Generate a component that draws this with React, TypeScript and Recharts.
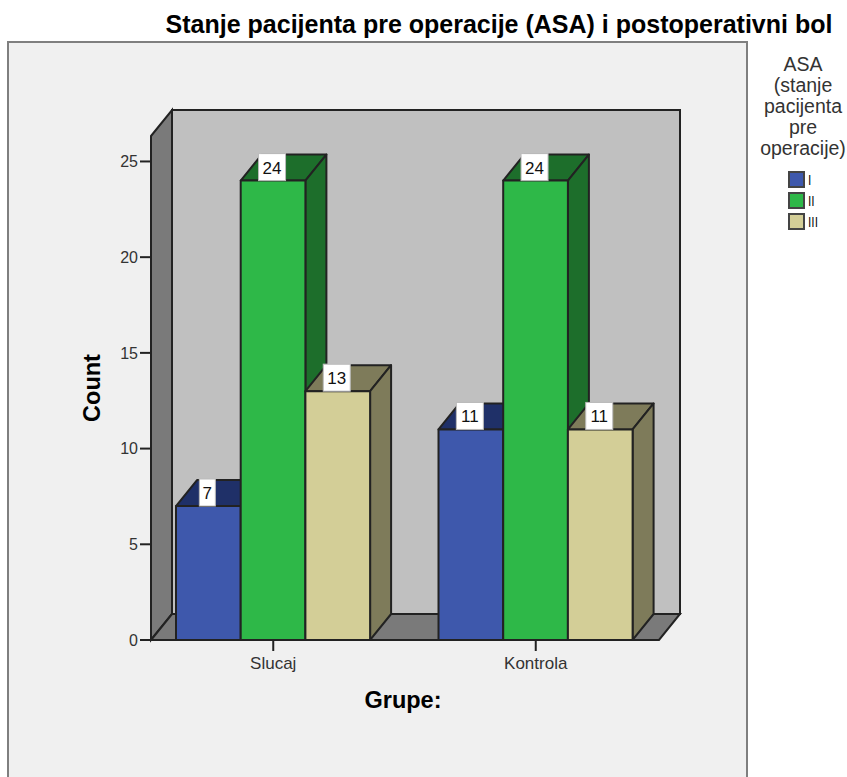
import React from 'react';
import { BarChart, Bar, XAxis, YAxis, Legend, LabelList, usePlotArea } from 'recharts';

const categories = ['Slucaj', 'Kontrola'];
const asaI = [7, 11];
const asaII = [24, 24];
const asaIII = [13, 11];
const yTicks = [0, 5, 10, 15, 20, 25];
const legendTitle = ['ASA', '(stanje', 'pacijenta', 'pre', 'operacije)'];

const data = categories.map((name, i) => ({ name, I: asaI[i], II: asaII[i], III: asaIII[i] }));

const FONT = '"Liberation Sans", Arial, sans-serif';
const DX = 21;
const DY = 26;
const EDGE = '#222';

const Walls = () => {
  const plot = usePlotArea();
  if (!plot) return null;
  const { x, y, width, height } = plot;
  const right = x + width;
  const bottom = y + height;
  return (
    <g>
      <rect x={8} y={42} width={739} height={780} fill="#f0f0f0" stroke="#7f7f7f" strokeWidth={2} />
      <text x={499} y={33} textAnchor="middle" fontFamily={FONT} fontWeight="bold" fontSize={25} fill="#000">
        Stanje pacijenta pre operacije (ASA) i postoperativni bol
      </text>
      <rect x={x + DX} y={y - DY} width={width} height={height} fill="#c0c0c0" stroke={EDGE} strokeWidth={2} />
      <polygon
        points={`${x},${y} ${x + DX},${y - DY} ${x + DX},${bottom - DY} ${x},${bottom}`}
        fill="#7a7a7a"
        stroke={EDGE}
        strokeWidth={2}
      />
      <polygon
        points={`${x},${bottom} ${x + DX},${bottom - DY} ${right + DX},${bottom - DY} ${right},${bottom}`}
        fill="#7a7a7a"
        stroke={EDGE}
        strokeWidth={2}
      />
    </g>
  );
};

const box = (front: string, top: string, side: string) => (props: any) => {
  const { x, y, width, height } = props;
  return (
    <g stroke={EDGE} strokeWidth={2} strokeLinejoin="round">
      <polygon points={`${x},${y} ${x + DX},${y - DY} ${x + width + DX},${y - DY} ${x + width},${y}`} fill={top} />
      <polygon
        points={`${x + width},${y} ${x + width + DX},${y - DY} ${x + width + DX},${y + height - DY} ${x + width},${y + height}`}
        fill={side}
      />
      <rect x={x} y={y} width={width} height={height} fill={front} />
    </g>
  );
};

const ValueLabel = (props: any) => {
  const { x, y, width, value } = props;
  const w = String(value).length > 1 ? 27 : 16;
  const h = 27;
  const cx = x + width / 2 - 1;
  return (
    <g>
      <rect x={cx - w / 2} y={y - h} width={w} height={h} fill="#fff" stroke="#bbb" strokeWidth={1} />
      <text x={cx} y={y - 7} textAnchor="middle" fontFamily={FONT} fontSize={17} fill="#111">
        {value}
      </text>
    </g>
  );
};

const LegendBox = ({ payload }: any) => (
  <div style={{ fontFamily: FONT, color: '#333', textAlign: 'center' }}>
    <div style={{ fontSize: 19.5, lineHeight: '21px' }}>
      {legendTitle.map((t) => (
        <div key={t}>{t}</div>
      ))}
    </div>
    <div style={{ marginTop: 10, marginLeft: 32 }}>
      {(payload || []).map((p: any) => (
        <div key={p.value} style={{ display: 'flex', alignItems: 'center', height: 21, fontSize: 15, color: '#111' }}>
          <span
            style={{
              width: 13,
              height: 13,
              background: p.color,
              border: '2px solid #444',
              marginRight: 3,
              display: 'inline-block',
            }}
          />
          <span style={{ display: 'inline-block', transform: 'scaleX(0.8)', transformOrigin: 'left center' }}>{p.value}</span>
        </div>
      ))}
    </div>
  </div>
);

export default function App() {
  return (
    <div style={{ position: 'absolute', left: 0, top: 0, width: 847, height: 777, background: '#fff', overflow: 'hidden' }}>
      <BarChart
        width={847}
        height={777}
        data={data}
        margin={{ top: 136, right: 94, bottom: 77, left: 91 }}
        barGap={0}
        barSize={64.7}
      >
        <Walls />
        <XAxis
          dataKey="name"
          height={60}
          padding={{ left: -9, right: -8 }}
          tickSize={11}
          tickMargin={6}
          tick={{ fontFamily: FONT, fontSize: 17, fill: '#333' }}
          stroke="#222"
          strokeWidth={2}
          label={{
            value: 'Grupe:',
            position: 'insideBottom',
            offset: -8,
            dx: -2,
            fontFamily: FONT,
            fontWeight: 'bold',
            fontSize: 23.5,
            fill: '#000',
          }}
        />
        <YAxis
          width={60}
          domain={[0, 26.33]}
          allowDataOverflow
          ticks={yTicks}
          tickSize={11}
          tick={{ fontFamily: FONT, fontSize: 16, fill: '#333' }}
          stroke="#222"
          strokeWidth={2}
          label={{
            value: 'Count',
            angle: -90,
            position: 'insideLeft',
            offset: 1,
            textAnchor: 'middle',
            fontFamily: FONT,
            fontWeight: 'bold',
            fontSize: 23.5,
            fill: '#000',
          }}
        />
        <Legend
          layout="vertical"
          align="right"
          verticalAlign="top"
          content={<LegendBox />}
          wrapperStyle={{ position: 'absolute', left: 756, top: 54, right: 'auto', width: 94 }}
        />
        <Bar dataKey="I" name="I" fill="#3e58ac" isAnimationActive={false} shape={box('#3e58ac', '#1f3068', '#1f3068')}>
          <LabelList dataKey="I" content={<ValueLabel />} />
        </Bar>
        <Bar dataKey="II" name="II" fill="#2eb848" isAnimationActive={false} shape={box('#2eb848', '#1d6e2b', '#1d6e2b')}>
          <LabelList dataKey="II" content={<ValueLabel />} />
        </Bar>
        <Bar dataKey="III" name="III" fill="#d3ce97" isAnimationActive={false} shape={box('#d3ce97', '#7e7b5a', '#7e7b5a')}>
          <LabelList dataKey="III" content={<ValueLabel />} />
        </Bar>
      </BarChart>
    </div>
  );
}
